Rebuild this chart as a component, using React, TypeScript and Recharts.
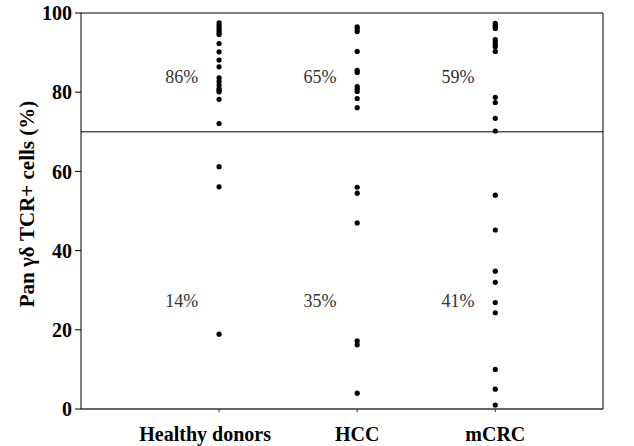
import React from 'react';
import { ScatterChart, Scatter, XAxis, YAxis, ReferenceLine } from 'recharts';

const categories = ['Healthy donors', 'HCC', 'mCRC'];

const healthyDonors = [97.5, 96.8, 96.2, 95.6, 95, 94.6, 92.3, 90.2, 88.1, 86.4, 83.6, 82.7, 81.8, 80.9, 80.5, 80.1, 78.2, 72.1, 61.2, 56.1, 18.9];
const hcc = [96.5, 96, 95.3, 90.3, 85.5, 85, 81.4, 80.8, 80.2, 78.4, 76.1, 56, 54.5, 47, 17.2, 16.2, 4];
const mcrc = [97.4, 96.8, 96.5, 96.1, 93.3, 92.7, 92, 91.5, 90.3, 78.7, 77.4, 73.4, 70.2, 54, 45.2, 34.8, 32, 26.9, 24.3, 10, 5, 1];

const upperPct = ['86%', '65%', '59%'];
const lowerPct = ['14%', '35%', '41%'];

const threshold = 70;
const yTicks = [0, 20, 40, 60, 80, 100];

const serif = '"Liberation Serif", "Times New Roman", serif';

const groups = [healthyDonors, hcc, mcrc];
const points = groups.flatMap((vals, i) => vals.map((v) => ({ x: i + 1, y: v })));

const labelPoints = [
  ...upperPct.map((t, i) => ({ x: i + 1 - 0.27, y: 83.8, text: t })),
  ...lowerPct.map((t, i) => ({ x: i + 1 - 0.27, y: 27.3, text: t })),
];

const Dot = (props: any) => <circle cx={props.cx} cy={props.cy} r={2.6} fill="#000" />;

const PctLabel = (props: any) => (
  <text
    x={props.cx}
    y={props.cy}
    textAnchor="middle"
    dominantBaseline="central"
    fontFamily={serif}
    fontSize={18}
    fill="#333"
  >
    {props.payload.text}
  </text>
);

// first label sits a little left of its column in the original
const CatTick = (props: any) => {
  const { x, y, payload } = props;
  const dx = payload.value === 1 ? -14 : 0;
  return (
    <text
      x={x + dx}
      y={y + 27}
      textAnchor="middle"
      fontFamily={serif}
      fontSize={20}
      fontWeight="bold"
      fill="#000"
    >
      {categories[payload.value - 1]}
    </text>
  );
};

export default function App() {
  return (
    <div style={{ position: 'absolute', left: 0, top: 0, background: '#fff' }}>
      <ScatterChart width={634} height={446} margin={{ top: 13, right: 31, bottom: 0, left: 0 }}>
        <XAxis
          type="number"
          dataKey="x"
          domain={[0, 3.78]}
          ticks={[1, 2, 3]}
          height={37}
          tick={<CatTick />}
          tickSize={3}
          axisLine={{ stroke: '#333', strokeWidth: 1.5 }}
          tickLine={{ stroke: '#333' }}
          allowDataOverflow
        />
        <YAxis
          type="number"
          dataKey="y"
          domain={[0, 100]}
          ticks={yTicks}
          width={81}
          tick={{ fontFamily: serif, fontSize: 20, fontWeight: 'bold', fill: '#000' }}
          tickSize={6}
          tickMargin={3}
          axisLine={{ stroke: '#000' }}
          tickLine={{ stroke: '#000' }}
          label={{
            content: (p: any) => {
              const vb = p.viewBox;
              const cx = vb.x + 27;
              const cy = vb.y + vb.height / 2 - 7;
              return (
                <text
                  x={cx}
                  y={cy}
                  transform={`rotate(-90 ${cx} ${cy})`}
                  textAnchor="middle"
                  dominantBaseline="central"
                  fontFamily={serif}
                  fontSize={21}
                  fontWeight="bold"
                  fill="#000"
                >
                  Pan γδ TCR+ cells (%)
                </text>
              );
            },
          }}
        />
        <ReferenceLine y={100} stroke="#000" />
        <ReferenceLine x={3.78} stroke="#000" />
        <ReferenceLine y={threshold} stroke="#000" />
        <Scatter data={points} shape={Dot} isAnimationActive={false} />
        <Scatter data={labelPoints} shape={PctLabel} isAnimationActive={false} />
      </ScatterChart>
    </div>
  );
}
